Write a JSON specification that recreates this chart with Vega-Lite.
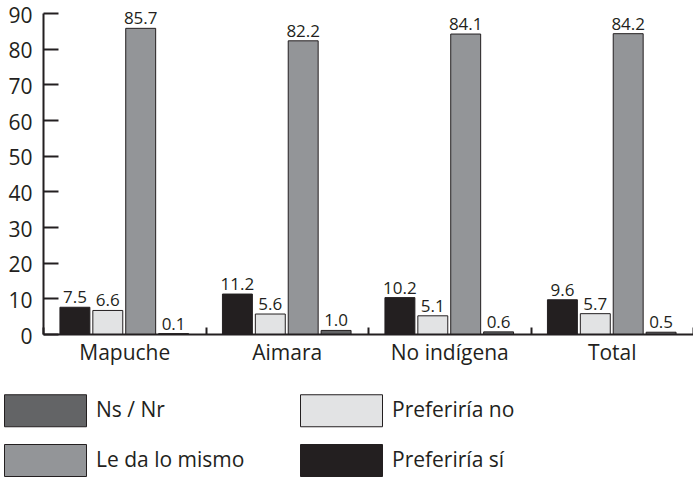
{
  "$schema": "https://vega.github.io/schema/vega-lite/v6.json",
  "width": 650,
  "height": 321,
  "autosize": {"type": "none"},
  "padding": {"left": 43, "top": 13, "right": 0, "bottom": 143},
  "background": "white",
  "config": {
    "view": {"stroke": null},
    "font": "Open Sans"
  },
  "data": {
    "values": [
      {"grupo": "Mapuche", "respuesta": "Preferiría sí", "valor": 7.5},
      {"grupo": "Mapuche", "respuesta": "Preferiría no", "valor": 6.6},
      {"grupo": "Mapuche", "respuesta": "Le da lo mismo", "valor": 85.7},
      {"grupo": "Mapuche", "respuesta": "Ns / Nr", "valor": 0.1},
      {"grupo": "Aimara", "respuesta": "Preferiría sí", "valor": 11.2},
      {"grupo": "Aimara", "respuesta": "Preferiría no", "valor": 5.6},
      {"grupo": "Aimara", "respuesta": "Le da lo mismo", "valor": 82.2},
      {"grupo": "Aimara", "respuesta": "Ns / Nr", "valor": 1.0},
      {"grupo": "No indígena", "respuesta": "Preferiría sí", "valor": 10.2},
      {"grupo": "No indígena", "respuesta": "Preferiría no", "valor": 5.1},
      {"grupo": "No indígena", "respuesta": "Le da lo mismo", "valor": 84.1},
      {"grupo": "No indígena", "respuesta": "Ns / Nr", "valor": 0.6},
      {"grupo": "Total", "respuesta": "Preferiría sí", "valor": 9.6},
      {"grupo": "Total", "respuesta": "Preferiría no", "valor": 5.7},
      {"grupo": "Total", "respuesta": "Le da lo mismo", "valor": 84.2},
      {"grupo": "Total", "respuesta": "Ns / Nr", "valor": 0.5}
    ]
  },
  "encoding": {
    "x": {
      "field": "grupo",
      "type": "nominal",
      "sort": ["Mapuche", "Aimara", "No indígena", "Total"],
      "scale": {"paddingInner": 0, "paddingOuter": 0},
      "axis": {
        "title": null,
        "labelAngle": 0,
        "labelFontSize": 21,
        "labelColor": "#231f20",
        "labelPadding": 15,
        "tickBand": "extent",
        "tickSize": -7,
        "tickWidth": 2,
        "tickColor": "#231f20",
        "domainColor": "#231f20",
        "domainWidth": 2
      }
    },
    "xOffset": {
      "field": "respuesta",
      "type": "nominal",
      "sort": ["Preferiría sí", "Preferiría no", "Le da lo mismo", "Ns / Nr"],
      "scale": {"paddingInner": 0.09, "paddingOuter": 0.515}
    },
    "y": {
      "field": "valor",
      "type": "quantitative",
      "scale": {"domain": [0, 90], "nice": false},
      "axis": {
        "title": null,
        "values": [0, 10, 20, 30, 40, 50, 60, 70, 80, 90],
        "grid": false,
        "labelFontSize": 21,
        "labelColor": "#231f20",
        "labelPadding": 26,
        "labelOffset": 3,
        "labelFlush": false,
        "tickSize": -15,
        "tickWidth": 2,
        "tickColor": "#231f20",
        "domainColor": "#231f20",
        "domainWidth": 2
      }
    }
  },
  "layer": [
    {
      "mark": {"type": "bar", "stroke": "#231f20", "strokeWidth": 1},
      "encoding": {
        "color": {
          "field": "respuesta",
          "type": "nominal",
          "scale": {
            "domain": ["Ns / Nr", "Preferiría no", "Le da lo mismo", "Preferiría sí"],
            "range": ["#636466", "#e2e3e4", "#939598", "#231f20"]
          },
          "legend": {
            "title": null,
            "orient": "none",
            "legendX": -14,
            "legendY": 381,
            "direction": "horizontal",
            "columns": 2,
            "padding": 0,
            "symbolType": "M-2.5625,-1H2.5625V1H-2.5625Z",
            "symbolSize": 1024,
            "symbolStrokeColor": "#231f20",
            "symbolStrokeWidth": 1,
            "symbolOpacity": 1,
            "labelFontSize": 21,
            "labelColor": "#231f20",
            "labelOffset": 34,
            "rowPadding": 13,
            "columnPadding": 53
          }
        }
      }
    },
    {
      "mark": {"type": "text", "dy": -4, "baseline": "alphabetic", "fontSize": 17, "color": "#231f20"},
      "encoding": {
        "text": {"field": "valor", "type": "quantitative", "format": ".1f"}
      }
    }
  ]
}
